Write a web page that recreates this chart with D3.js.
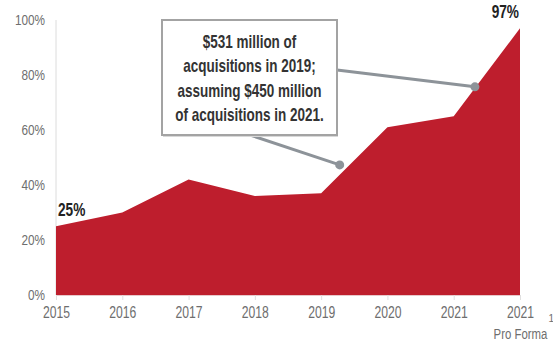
<!DOCTYPE html>
<html>
<head>
<meta charset="utf-8">
<script src="https://cdn.jsdelivr.net/npm/d3@7"></script>
<style>
  html, body { margin: 0; padding: 0; background: #fff; }
  svg { display: block; }
  text { font-family: "Liberation Sans", Arial, sans-serif; }
</style>
</head>
<body>
<svg id="chart" width="553" height="345"></svg>
<script>
// Years on the x axis (last one is the pro forma column)
const categories = ["2015", "2016", "2017", "2018", "2019", "2020", "2021", "2021PF"];
// Share of portfolio, percent
const values = [25, 30, 42, 36, 37, 61, 65, 97];
const yTicks = [0, 20, 40, 60, 80, 100];
// Labelled end points
const endLabels = [{ i: 0, text: "25%" }, { i: 7, text: "97%" }];
// Callout text and the two points it points to (fractional category index, percent)
const calloutLines = ["$531 million of", "acquisitions in 2019;", "assuming $450 million", "of acquisitions in 2021."];
const calloutTargets = [{ idx: 4.28, v: 47.3 }, { idx: 6.32, v: 75.7 }];

const svg = d3.select("#chart");
const margin = { left: 56, right: 33, top: 20, bottom: 50 };
const W = 553, H = 345;

const x = d3.scalePoint().domain(categories).range([margin.left, W - margin.right]);
const xi = d3.scaleLinear().domain([0, categories.length - 1]).range([margin.left, W - margin.right]);
const y = d3.scaleLinear().domain([0, 100]).range([H - margin.bottom, margin.top]);

const red = "#be1e2d";
const axisGrey = "#6e6e6e";

// Squeeze text horizontally around its anchor point for a narrow, condensed look
function condense(sel, k = 0.76) {
  sel.each(function () {
    const ax = +(this.getAttribute("x") || 0);
    d3.select(this).attr("transform", `translate(${ax * (1 - k)},0) scale(${k},1)`);
  });
}

// Y axis line
svg.append("line")
  .attr("x1", margin.left).attr("x2", margin.left)
  .attr("y1", y(100)).attr("y2", y(0))
  .attr("stroke", "#dcdcdc").attr("stroke-width", 1);

// Area
const area = d3.area()
  .x((d, i) => x(categories[i]))
  .y0(y(0))
  .y1(d => y(d));
svg.append("path").datum(values)
  .attr("d", area)
  .attr("fill", red);

// Y axis labels
const yAxis = d3.axisLeft(y).tickValues(yTicks).tickFormat(d => d + "%").tickSize(0).tickPadding(11);
const gy = svg.append("g").attr("transform", `translate(${margin.left},0)`).call(yAxis);
gy.attr("font-family", null);
gy.select(".domain").remove();
gy.selectAll("text")
  .attr("font-size", 15.5)
  .attr("fill", axisGrey)
  .call(condense);

// X axis
const xAxis = d3.axisBottom(x).tickSize(5).tickPadding(7).tickFormat(d => d.replace("PF", ""));
const gx = svg.append("g").attr("transform", `translate(0,${y(0)})`).call(xAxis);
gx.attr("font-family", null);
gx.select(".domain").attr("stroke", "#e8c8cb").attr("stroke-width", 1);
gx.selectAll(".tick line").attr("stroke", "#e0e0e0");
gx.selectAll("text")
  .attr("font-size", 16)
  .attr("fill", axisGrey)
  .call(condense);

// Second line under the pro forma year, with its footnote mark
const pfTick = gx.selectAll(".tick").filter(d => d === "2021PF");
pfTick.append("text")
  .attr("y", 44)
  .attr("text-anchor", "middle")
  .attr("font-size", 15)
  .attr("fill", axisGrey)
  .text("Pro Forma")
  .call(condense);
pfTick.append("text")
  .attr("x", 28)
  .attr("y", 27)
  .attr("text-anchor", "start")
  .attr("font-size", 10)
  .attr("fill", axisGrey)
  .text("1");

// End value labels
svg.selectAll(".endlabel").data(endLabels).enter().append("text")
  .attr("class", "endlabel")
  .attr("x", d => d.i === 0 ? x(categories[d.i]) + 2 : x(categories[d.i]) - 1)
  .attr("y", d => y(values[d.i]) - 10)
  .attr("text-anchor", d => d.i === 0 ? "start" : "end")
  .attr("font-size", 18)
  .attr("font-weight", "bold")
  .attr("fill", "#222")
  .text(d => d.text)
  .call(condense);

// Callout box geometry
const box = { x: 162, y: 20, w: 175, h: 115 };
const lineGrey = "#8d9399";

// Connectors from the box to the two points
const starts = [
  { x: box.x + 88, y: box.y + box.h },
  { x: box.x + box.w, y: box.y + 50 }
];
svg.selectAll(".connector").data(calloutTargets).enter().append("line")
  .attr("x1", (d, i) => starts[i].x)
  .attr("y1", (d, i) => starts[i].y)
  .attr("x2", d => xi(d.idx))
  .attr("y2", d => y(d.v))
  .attr("stroke", lineGrey)
  .attr("stroke-width", 3);
svg.selectAll(".dot").data(calloutTargets).enter().append("circle")
  .attr("cx", d => xi(d.idx))
  .attr("cy", d => y(d.v))
  .attr("r", 4.5)
  .attr("fill", lineGrey);

// Box with soft shadow
svg.append("rect")
  .attr("x", box.x + 1).attr("y", box.y + 2)
  .attr("width", box.w).attr("height", box.h)
  .attr("fill", "#d8d8d8");
svg.append("rect")
  .attr("x", box.x).attr("y", box.y)
  .attr("width", box.w).attr("height", box.h)
  .attr("fill", "#fff")
  .attr("stroke", "#a3a3a3")
  .attr("stroke-width", 2);

svg.append("g").selectAll("text").data(calloutLines).enter().append("text")
  .attr("x", box.x + box.w / 2)
  .attr("y", (d, i) => box.y + 28 + i * 24.5)
  .attr("text-anchor", "middle")
  .attr("font-size", 18)
  .attr("font-weight", "bold")
  .attr("fill", "#333")
  .text(d => d)
  .call(condense, 0.75);
</script>
</body>
</html>
